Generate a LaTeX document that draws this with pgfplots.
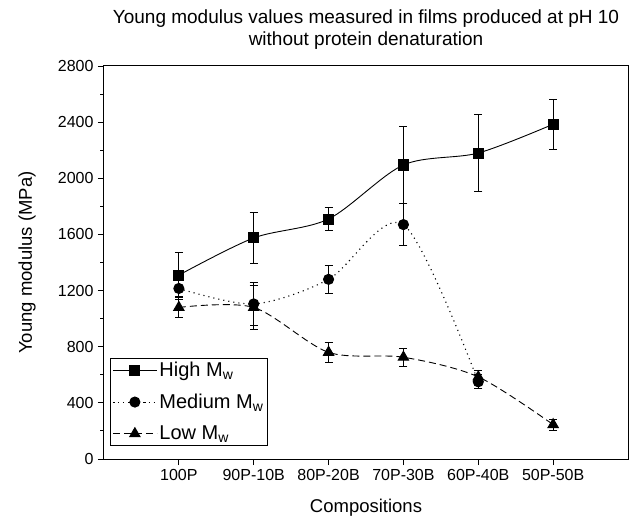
\documentclass[border=0pt]{standalone}
\usepackage{pgfplots}
\pgfplotsset{compat=1.18}
\usepackage{fontspec}
\setmainfont{Liberation Sans}
\begin{document}
\begin{tikzpicture}[x=1pt,y=1pt]
\useasboundingbox (-104,-60) rectangle (527,459);
\begin{axis}[
  scale only axis,
  width=524pt, height=393pt,
  at={(0,0)}, anchor=south west,
  xmin=-1, xmax=6, ymin=0, ymax=2800,
  xtick={0,1,2,3,4,5},
  xticklabels={100P,90P-10B,80P-20B,70P-30B,60P-40B,50P-50B},
  ytick={0,400,800,1200,1600,2000,2400,2800},
  minor ytick={200,600,1000,1400,1800,2200,2600},
  tick align=outside,
  xtick pos=bottom, ytick pos=left,
  major tick length=6pt, minor tick length=3.5pt,
  every tick/.style={black, line width=0.9pt},
  axis line style={line width=1pt},
  /pgf/number format/assume math mode=true,
  /pgf/number format/1000 sep={},
  tick label style={font=\fontsize{16}{18}\selectfont},
  xticklabel style={yshift=-1pt},
  yticklabel style={xshift=-1pt},
  xlabel={Compositions},
  ylabel={Young modulus (MPa)},
  label style={font=\fontsize{18.5}{20}\selectfont},
  xlabel style={at={(axis description cs:0.5,0)}, anchor=center, yshift=-49pt},
  ylabel style={at={(axis description cs:0,0.5)}, anchor=center, yshift=77pt},
  title={Young modulus values measured in films produced at pH 10\\without protein denaturation},
  title style={align=center, font=\fontsize{19}{22}\selectfont, at={(axis description cs:0.5,1)}, anchor=south, yshift=7pt},
  legend style={at={(axis cs:-0.92,95)}, anchor=south west, draw=black, line width=0.7pt,
    font=\fontsize{20}{22}\selectfont, inner sep=2pt, row sep=12pt,
    legend cell align=left},
  legend image code/.code={
    \draw[mark repeat=2,mark phase=2] plot coordinates {(0pt,0pt) (22pt,0pt) (44pt,0pt)};},
  error bars/error bar style={line width=0.9pt, solid},
  error bars/error mark options={rotate=90, mark size=4pt, line width=0.9pt, solid},
]
\addplot[black, line width=0.9pt, smooth, mark=square*, mark size=5pt, mark options={solid},
  error bars/.cd, y dir=both, y explicit]
  coordinates {
  (0,1310) +- (0,160)
  (1,1575) +- (0,185)
  (2,1710) +- (0,85)
  (3,2095) +- (0,275)
  (4,2180) +- (0,275)
  (5,2385) +- (0,180)
  };
\addlegendentry{High M\textsubscript{w}}
\addplot[black, line width=1.1pt, dash pattern=on 1.1pt off 4pt, smooth, mark=*, mark size=5pt, mark options={solid},
  error bars/.cd, y dir=both, y explicit]
  coordinates {
  (0,1215) +- (0,80)
  (1,1105) +- (0,150)
  (2,1280) +- (0,100)
  (3,1670) +- (0,150)
  (4,550) +- (0,50)
  };
\addlegendentry{Medium M\textsubscript{w}}
\addplot[black, line width=0.9pt, dash pattern=on 7pt off 4pt, smooth, mark=triangle*, mark size=6pt, mark options={solid},
  error bars/.cd, y dir=both, y explicit]
  coordinates {
  (0,1080) +- (0,75)
  (1,1080) +- (0,160)
  (2,760) +- (0,70)
  (3,725) +- (0,65)
  (4,585) +- (0,45)
  (5,245) +- (0,40)
  };
\addlegendentry{Low M\textsubscript{w}}
\end{axis}
\end{tikzpicture}
\end{document}
